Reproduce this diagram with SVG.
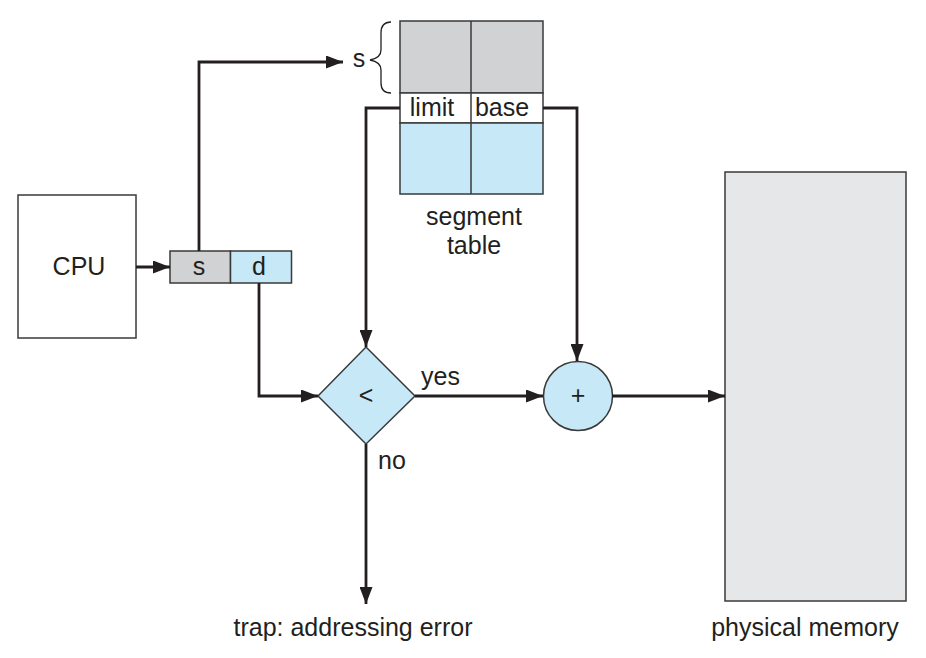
<svg xmlns="http://www.w3.org/2000/svg" width="926" height="658" viewBox="0 0 926 658">
<defs>
<marker id="ah" markerWidth="17" markerHeight="13" refX="17" refY="6.5" orient="auto" markerUnits="userSpaceOnUse" viewBox="0 0 17 13">
<path d="M0,0 L17,6.5 L0,13 Z" fill="#231f20"/>
</marker>
<style>
.t{font-family:"Liberation Sans",Arial,sans-serif;fill:#231f20;font-size:25px}
.box{stroke:#3a3a3a;stroke-width:1.5}
.ln{fill:none;stroke:#231f20;stroke-width:2.8}
</style>
</defs>
<rect width="926" height="658" fill="#fff"/>
<g id="cpu">
<rect class="box" x="18" y="195" width="118" height="143" fill="#fff"/>
<text class="t" x="79" y="275" text-anchor="middle">CPU</text>
</g>
<g id="address">
<rect class="box" x="170" y="251" width="60.5" height="32" fill="#d1d2d4"/>
<rect class="box" x="230.5" y="251" width="61" height="32" fill="#c7e8f6"/>
<text class="t" x="199" y="275" text-anchor="middle">s</text>
<text class="t" x="259" y="275" text-anchor="middle">d</text>
</g>
<g id="segment-table">
<rect class="box" x="400" y="21" width="143" height="72" fill="#d1d2d4"/>
<rect class="box" x="400" y="93" width="143" height="30" fill="#fff"/>
<rect class="box" x="400" y="123" width="143" height="71" fill="#c7e8f6"/>
<line class="box" x1="471" y1="21" x2="471" y2="194"/>
<text class="t" x="432" y="116" text-anchor="middle">limit</text>
<text class="t" x="502" y="116" text-anchor="middle">base</text>
<text class="t" x="474" y="225" text-anchor="middle">segment</text>
<text class="t" x="474" y="254" text-anchor="middle">table</text>
<text class="t" x="359" y="67" text-anchor="middle">s</text>
<path d="M391,22 Q381,22 381,33 L381,50 Q381,58 370,60 Q381,62 381,70 L381,83 Q381,93 391,93" fill="none" stroke="#231f20" stroke-width="1.3"/>
</g>
<g id="compare">
<polygon class="box" points="366,347 415,396 366,444 318,396" fill="#c7e8f6"/>
<text class="t" x="366" y="404" text-anchor="middle">&lt;</text>
</g>
<g id="adder">
<circle class="box" cx="578" cy="396" r="34.5" fill="#c7e8f6"/>
<text class="t" x="578" y="404" text-anchor="middle">+</text>
</g>
<g id="memory">
<rect class="box" x="725" y="172" width="181" height="429" fill="#e6e7e8"/>
<text class="t" x="805" y="636" text-anchor="middle">physical memory</text>
</g>
<g id="trap">
<text class="t" x="353" y="636" text-anchor="middle">trap: addressing error</text>
</g>
<g id="connectors">
<line class="ln" x1="136" y1="267" x2="170" y2="267" marker-end="url(#ah)"/>
<polyline class="ln" points="199,251 199,62 343,62" marker-end="url(#ah)"/>
<polyline class="ln" points="259,283 259,396 318,396" marker-end="url(#ah)"/>
<polyline class="ln" points="400,108 366,108 366,347" marker-end="url(#ah)"/>
<polyline class="ln" points="543,108 577,108 577,361" marker-end="url(#ah)"/>
<line class="ln" x1="415" y1="396" x2="543" y2="396" marker-end="url(#ah)"/>
<line class="ln" x1="612" y1="396" x2="725" y2="396" marker-end="url(#ah)"/>
<line class="ln" x1="366" y1="444" x2="366" y2="604" marker-end="url(#ah)"/>
<text class="t" x="421" y="385">yes</text>
<text class="t" x="378" y="469">no</text>
</g>
</svg>
